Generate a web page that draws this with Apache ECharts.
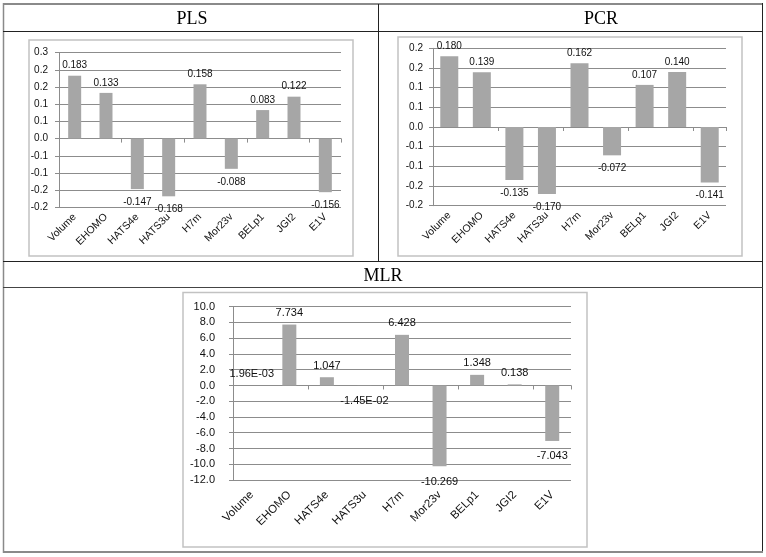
<!DOCTYPE html>
<html><head><meta charset="utf-8">
<script src="https://cdn.jsdelivr.net/npm/echarts@6/dist/echarts.min.js"></script>
<style>html,body{margin:0;padding:0;background:#fff}#c{width:766px;height:557px}</style>
</head><body><div id="c"></div>
<script>
// ---- data ----
const categories = ['Volume','EHOMO','HATS4e','HATS3u','H7m','Mor23v','BELp1','JGI2','E1V'];
const plsValues = [0.183, 0.133, -0.147, -0.168, 0.158, -0.088, 0.083, 0.122, -0.156];
const pcrValues = [0.180, 0.139, -0.135, -0.170, 0.162, -0.072, 0.107, 0.140, -0.141];
const mlrValues = [1.96e-3, 7.734, 1.047, -1.45e-2, 6.428, -10.269, 1.348, 0.138, -7.043];
const plsTickLabels = ['-0.2','-0.2','-0.1','-0.1','0.0','0.1','0.1','0.2','0.2','0.3'];
const pcrTickLabels = ['-0.2','-0.2','-0.1','-0.1','0.0','0.1','0.1','0.2','0.2'];
const mlrTickLabels = ['-12.0','-10.0','-8.0','-6.0','-4.0','-2.0','0.0','2.0','4.0','6.0','8.0','10.0'];
const panelTitles = ['PLS','PCR','MLR'];

// ---- layout ----
const FONT = 'Liberation Sans, Arial, sans-serif';
const BAR = '#a6a6a6';
const GRIDC = '#8c8c8c';

function fmtFixed(v){ return v.toFixed(3); }
function fmtMlr(v){
  if (Math.abs(v) < 0.1) {
    const s = v.toExponential(2).toUpperCase();
    return s.replace(/E([+-])(\d)$/, 'E$10$2');
  }
  return v.toFixed(3);
}

const panels = [
  {values: plsValues, ticks: plsTickLabels, min: -0.2, max: 0.25, interval: 0.05,
   grid: {left: 59, top: 52.7, width: 282, height: 154.6}, barWidth: 13, fs: 10, xfs: 10.5,
   ylm: 11, xlm: 8, fmt: fmtFixed, dUp: 5, dDown: 8},
  {values: pcrValues, ticks: pcrTickLabels, min: -0.2, max: 0.2, interval: 0.05,
   grid: {left: 433, top: 48.3, width: 293, height: 157.4}, barWidth: 18, fs: 10, xfs: 10.5,
   ylm: 10, xlm: 8, fmt: fmtFixed, dUp: 5, dDown: 8},
  {values: mlrValues, ticks: mlrTickLabels, min: -12, max: 10, interval: 2,
   grid: {left: 233, top: 306.7, width: 338, height: 173.3}, barWidth: 14, fs: 11, xfs: 11.5,
   ylm: 18, xlm: 13, fmt: fmtMlr, dUp: 6, dDown: 10}
];

const grids = [], xAxes = [], yAxes = [], series = [];
panels.forEach((p, i) => {
  grids.push(Object.assign({outerBoundsMode: 'none', containLabel: false}, p.grid));
  xAxes.push({type: 'category', gridIndex: i, data: categories, position: 'bottom',
    axisLine: {show: false, onZero: false}, axisTick: {show: false},
    axisLabel: {interval: 0, rotate: 45, margin: p.xlm, fontFamily: FONT, fontSize: p.xfs, color: '#111'}});
  xAxes.push({type: 'category', gridIndex: i, data: categories, position: 'top',
    axisLine: {show: true, onZero: true, lineStyle: {color: GRIDC, width: 1}},
    axisTick: {show: true, inside: true, length: 4, lineStyle: {color: GRIDC}},
    axisLabel: {show: false}, splitLine: {show: false}});
  yAxes.push({type: 'value', gridIndex: i, min: p.min, max: p.max, interval: p.interval,
    axisLine: {show: true, lineStyle: {color: GRIDC}},
    axisTick: {show: true, length: 4, lineStyle: {color: GRIDC}},
    splitLine: {show: true, lineStyle: {color: GRIDC, width: 1}},
    axisLabel: {margin: p.ylm, fontFamily: FONT, fontSize: p.fs, color: '#111',
      formatter: (v) => p.ticks[Math.round((v - p.min) / p.interval)]}});
  series.push({type: 'bar', xAxisIndex: i * 2, yAxisIndex: i, barWidth: p.barWidth,
    itemStyle: {color: BAR}, animation: false,
    data: p.values.map(v => ({value: v, label: {distance: v < 0 ? p.dDown : p.dUp}})),
    label: {show: true, position: 'outside', fontFamily: FONT, fontSize: p.fs, color: '#111',
      formatter: (d) => p.fmt(d.value)}});
});

const line = (x1, y1, x2, y2, color, w) => ({type: 'line', silent: true,
  shape: {x1, y1, x2, y2}, style: {stroke: color, lineWidth: w}});
const frame = (x, y, w, h) => ({type: 'rect', silent: true, z: -1,
  shape: {x, y, width: w, height: h}, style: {fill: '#fff', stroke: '#c2c2c2', lineWidth: 1.5}});
const title = (t, x, y) => ({type: 'text', silent: true, x, y,
  style: {text: t, font: '18px "Liberation Serif", "Times New Roman", serif', fill: '#000',
    textAlign: 'center', textVerticalAlign: 'middle'}});

const graphic = [
  frame(29, 40, 324, 216),
  frame(398, 37, 344, 219),
  frame(183, 292.5, 404, 254.5),
  line(3, 4, 763, 4, '#8a8a8a', 2),
  line(3.5, 3, 3.5, 553, '#8a8a8a', 1.5),
  line(762.5, 3, 762.5, 553, '#222', 1),
  line(3, 552, 763, 552, '#8a8a8a', 2),
  line(3, 31.5, 763, 31.5, '#222', 1),
  line(378.5, 4, 378.5, 262, '#222', 1),
  line(3, 261.5, 763, 261.5, '#222', 1),
  line(3, 287.5, 763, 287.5, '#444', 1),
  title(panelTitles[0], 192, 19),
  title(panelTitles[1], 601, 19),
  title(panelTitles[2], 383, 276)
];

const chart = echarts.init(document.getElementById('c'), null, {renderer: 'canvas'});
chart.setOption({animation: false, backgroundColor: '#fff', grid: grids, xAxis: xAxes, yAxis: yAxes, series, graphic});
</script></body></html>
